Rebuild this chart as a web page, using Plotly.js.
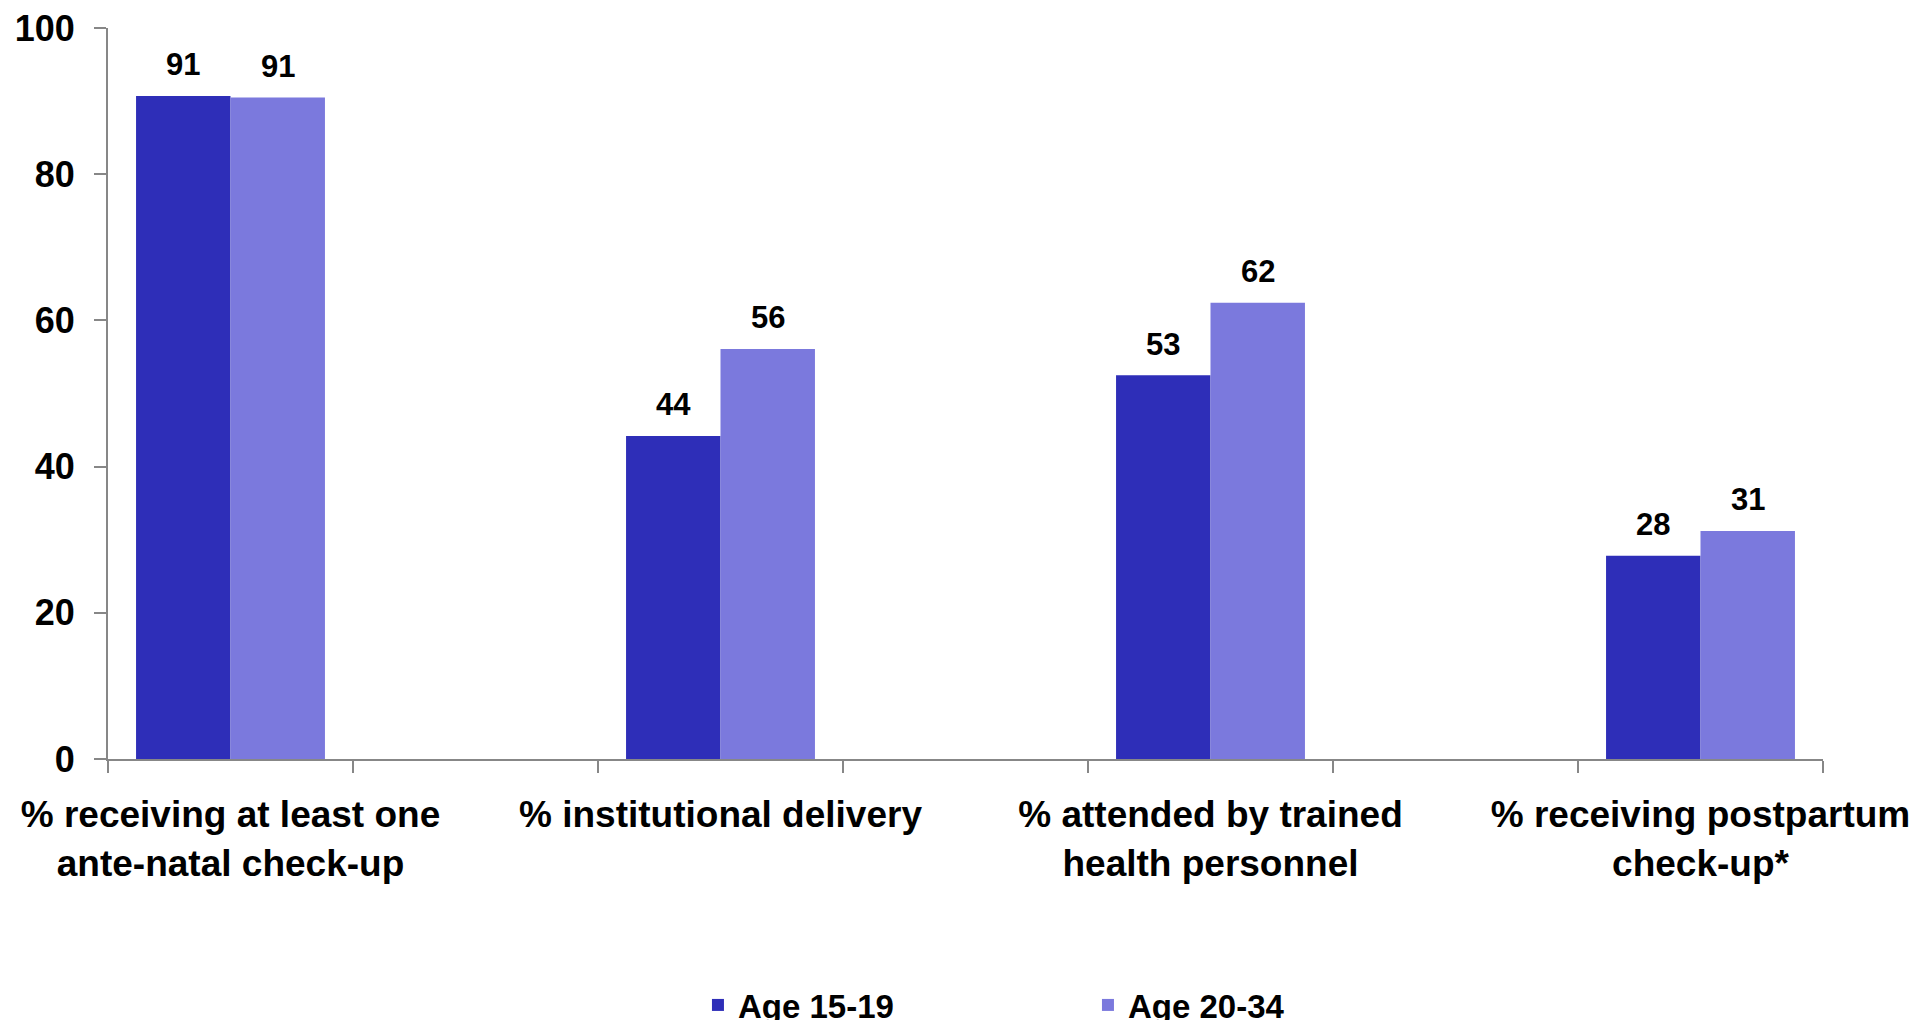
<!DOCTYPE html>
<html>
<head>
<meta charset="utf-8">
<script src="https://cdn.plot.ly/plotly-3.0.1.min.js"></script>
<style>
html,body{margin:0;padding:0;background:#fff;}
#chart{width:1909px;height:1020px;}
</style>
</head>
<body>
<div id="chart"></div>
<script>
// ---- data ----
const categories = [
  "% receiving at least one<br>ante-natal check-up",
  "% institutional delivery",
  "% attended by trained<br>health personnel",
  "% receiving postpartum<br>check-up*"
];
const seriesNames = ["Age 15-19", "Age 20-34"];
const age1519 = [90.7, 44.2, 52.5, 27.8];
const age2034 = [90.5, 56.1, 62.4, 31.2];
const yTicks = [0, 20, 40, 60, 80, 100];

// ---- layout helpers ----
const colors = ["#2E2EB8", "#7B79DD"];
const fontFam = "'Liberation Sans', Arial, Helvetica, sans-serif";

// axis categories: blank spacer category between each labelled one
const axisCats = [];
categories.forEach((c, i) => {
  axisCats.push(c);
  if (i < categories.length - 1) axisCats.push("\u200b".repeat(i + 1));
});

const bargap = 0.229;
const series = [age1519, age2034];
const traces = series.map((vals, s) => ({
  type: "bar",
  name: seriesNames[s],
  x: categories,
  y: vals,
  marker: {color: colors[s], line: {width: 0}},
  hoverinfo: "x+y"
}));

const half = (1 - bargap) / 4;
const annotations = [];
series.forEach((vals, s) => {
  vals.forEach((v, i) => {
    annotations.push({
      xref: "x", yref: "y",
      x: axisCats.indexOf(categories[i]) + (s === 0 ? -half : half),
      y: v,
      text: String(Math.round(v)),
      showarrow: false,
      yanchor: "middle",
      yshift: 31,
      font: {family: fontFam, size: 31, color: "#000", weight: "bold"}
    });
  });
});

const layout = {
  width: 1909, height: 1020,
  paper_bgcolor: "#fff", plot_bgcolor: "#fff",
  margin: {l: 108, r: 86, t: 28, b: 261, autoexpand: false},
  barmode: "group",
  bargap: bargap,
  bargroupgap: 0,
  showlegend: true,
  legend: {
    orientation: "h",
    x: 0.344, xanchor: "left",
    y: -0.3365, yanchor: "middle",
    entrywidth: 345, entrywidthmode: "pixels",
    font: {family: fontFam, size: 33, color: "#000", weight: "bold"},
    itemclick: false
  },
  xaxis: {
    type: "category",
    categoryorder: "array",
    categoryarray: axisCats,
    range: [-0.5, axisCats.length - 0.5],
    tickson: "boundaries",
    ticks: "outside", ticklen: 12, tickwidth: 2, tickcolor: "#878787",
    ticklabelstandoff: 22,
    showline: true, linecolor: "#878787", linewidth: 2,
    showgrid: false, zeroline: false,
    tickangle: 0,
    tickfont: {family: fontFam, size: 37, color: "#000", weight: "bold"},
    fixedrange: true
  },
  yaxis: {
    range: [0, 100],
    tickmode: "array", tickvals: yTicks, ticktext: yTicks.map(String),
    ticks: "outside", ticklen: 12, tickwidth: 2, tickcolor: "#878787",
    ticklabelstandoff: 12,
    showline: true, linecolor: "#878787", linewidth: 2,
    showgrid: false, zeroline: false,
    tickfont: {family: fontFam, size: 36, color: "#000", weight: "bold"},
    fixedrange: true
  },
  annotations: annotations,
  font: {family: fontFam, color: "#000"}
};

Plotly.newPlot("chart", traces, layout, {displayModeBar: false, staticPlot: true});
</script>
</body>
</html>
